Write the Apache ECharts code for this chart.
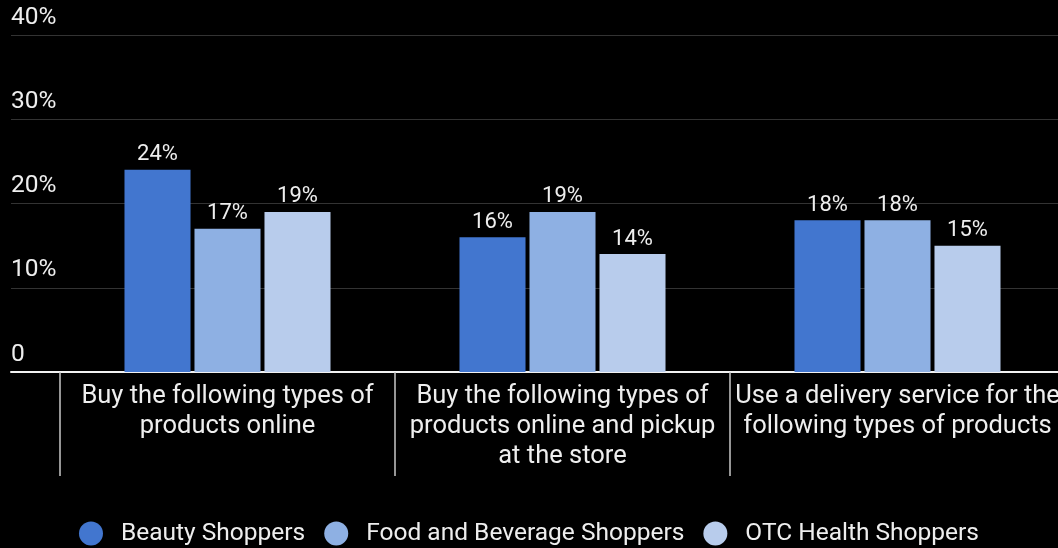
<!DOCTYPE html>
<html>
<head>
<meta charset="utf-8">
<script src="https://cdn.jsdelivr.net/npm/echarts@6/dist/echarts.min.js"></script>
<style>
  html, body { margin: 0; padding: 0; background: #000; }
  #chart { width: 1058px; height: 548px; }
</style>
</head>
<body>
<div id="chart"></div>
<script>
// Share of shoppers (%) by purchase behaviour
const categories = [
  'Buy the following types of\nproducts online',
  'Buy the following types of\nproducts online and pickup\nat the store',
  'Use a delivery service for the\nfollowing types of products'
];
const seriesNames = ['Beauty Shoppers', 'Food and Beverage Shoppers', 'OTC Health Shoppers'];
const beautyValues = [24, 16, 18];
const foodValues = [17, 19, 18];
const otcValues = [19, 14, 15];
const yTicks = [0, 10, 20, 30, 40];

const colors = ['#4276cf', '#8eb0e3', '#b8ccec'];
const FONT = 'Roboto, "Noto Sans", sans-serif';

const chart = echarts.init(document.getElementById('chart'), null, { renderer: 'canvas' });

function barSeries(name, values, color) {
  return {
    name: name,
    type: 'bar',
    xAxisIndex: 1,
    yAxisIndex: 1,
    data: values,
    barGap: '6%',
    barCategoryGap: '38.5%',
    itemStyle: { color: color },
    label: {
      show: true,
      position: 'top',
      distance: 4,
      color: '#eeeeee',
      fontSize: 22,
      fontFamily: FONT,
      formatter: p => p.value + '%'
    }
  };
}

chart.setOption({
  backgroundColor: '#000000',
  animation: false,
  color: colors,
  grid: [
    { left: 11, top: 35, width: 1055, height: 337, outerBoundsMode: 'none', containLabel: false },
    { left: 60, top: 35, width: 1005, height: 337, outerBoundsMode: 'none', containLabel: false }
  ],
  xAxis: [
    {
      gridIndex: 0,
      type: 'category',
      data: [''],
      axisLine: { show: true, lineStyle: { color: '#f2f2f2', width: 2 } },
      axisTick: { show: false },
      axisLabel: { show: false }
    },
    {
      gridIndex: 1,
      type: 'category',
      data: categories,
      axisLine: { show: false },
      axisTick: { show: true, length: 104, lineStyle: { color: '#c8c8c8', width: 1.5 } },
      axisLabel: {
        interval: 0,
        margin: 10,
        color: '#eeeeee',
        fontSize: 25.5,
        lineHeight: 30,
        fontFamily: FONT,
        align: 'center',
        hideOverlap: false
      }
    }
  ],
  yAxis: [
    {
      gridIndex: 0,
      type: 'value',
      min: yTicks[0],
      max: yTicks[yTicks.length - 1],
      interval: 10,
      axisLine: { show: false },
      axisTick: { show: false },
      splitLine: { show: true, lineStyle: { color: '#333333', width: 1 } },
      axisLabel: {
        inside: true,
        margin: 0,
        align: 'left',
        verticalAlign: 'bottom',
        padding: [0, 0, 5, 0],
        color: '#eeeeee',
        fontSize: 24.5,
        fontFamily: FONT,
        formatter: v => (v === 0 ? '0' : v + '%')
      }
    },
    {
      gridIndex: 1,
      type: 'value',
      min: 0,
      max: 40,
      interval: 10,
      show: false
    }
  ],
  legend: {
    data: seriesNames,
    left: 'center',
    top: 516,
    icon: 'circle',
    itemWidth: 24,
    itemHeight: 24,
    itemGap: 19,
    textStyle: {
      color: '#eeeeee',
      fontSize: 24.5,
      fontFamily: FONT,
      padding: [0, 0, 0, 13]
    }
  },
  series: [
    barSeries(seriesNames[0], beautyValues, colors[0]),
    barSeries(seriesNames[1], foodValues, colors[1]),
    barSeries(seriesNames[2], otcValues, colors[2])
  ]
});
</script>
</body>
</html>
